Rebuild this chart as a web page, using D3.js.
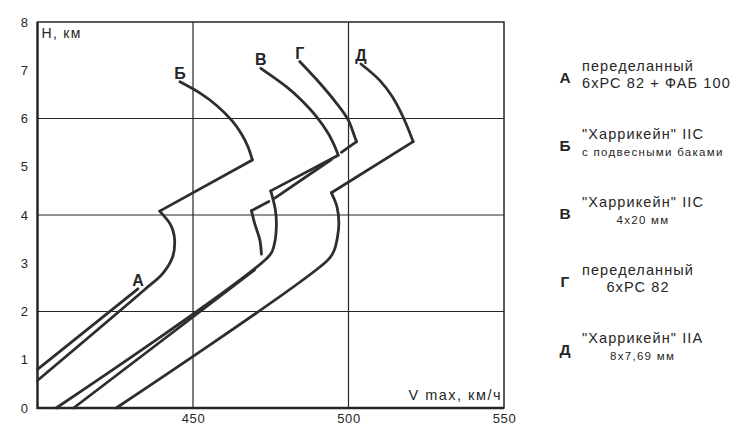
<!DOCTYPE html>
<html>
<head>
<meta charset="utf-8">
<script src="https://cdn.jsdelivr.net/npm/d3@7"></script>
<style>
  body { margin: 0; background: #fff; }
  svg { display: block; font-family: "Liberation Sans", Arial, sans-serif; }
</style>
</head>
<body>
<div id="chart"></div>
<script>
// max speed (km/h) against altitude (km)
const xTicks = [450, 500, 550];
const yTicks = [0, 1, 2, 3, 4, 5, 6, 7, 8];
const xGrid = [450, 500];
const yGrid = [2, 4, 6];

const curveNames = ["А", "Б", "В", "Г", "Д"];

// each curve = list of pieces of [speed, altitude]; pieces meet at sharp corners,
// pieces that do not touch leave the small breaks of the original drawing
const curveA = [
  [[400, 0.80], [432.3, 2.47]]
];
const curveB = [
  [[400, 0.57], [434.4, 2.45], [440.3, 2.79], [443.5, 3.14], [444.1, 3.48],
   [443.5, 3.69], [442.5, 3.83], [439.3, 4.08]],
  [[439.3, 4.08], [469.1, 5.14]],
  [[469.1, 5.14], [467.7, 5.41], [465.6, 5.68], [462.6, 5.95], [457.8, 6.26],
   [452.4, 6.52], [445.8, 6.76]]
];
const curveV = [
  [[406, 0], [474.7, 3.17], [476.1, 3.38], [476.8, 3.76], [476.5, 4.10], [475.0, 4.50]],
  [[475.0, 4.50], [496.7, 5.24]],
  [[496.7, 5.24], [495.6, 5.42], [493.5, 5.69], [489.7, 6.04], [484.9, 6.38],
   [480.0, 6.66], [471.8, 7.04]]
];
const curveG = [
  [[411.6, 0], [469.8, 2.86]],
  [[472.0, 3.19], [471.5, 3.48], [469.8, 3.83], [468.8, 4.09]],
  [[468.8, 4.09], [474.4, 4.28]],
  [[476.3, 4.35], [494.5, 5.15]],
  [[497.7, 5.30], [502.6, 5.52]],
  [[502.6, 5.52], [502.0, 5.62], [499.9, 5.97], [496.1, 6.32], [490.8, 6.73], [484.3, 7.18]]
];
const curveD = [
  [[425.3, 0], [493.4, 3.07], [495.4, 3.27], [496.4, 3.52], [496.9, 3.83],
   [496.3, 4.17], [494.5, 4.46]],
  [[494.5, 4.46], [520.8, 5.52]],
  [[520.8, 5.52], [517.7, 6.01], [514.1, 6.45], [509.9, 6.80], [504.0, 7.13]]
];
const curves = [curveA, curveB, curveV, curveG, curveD];

const legendMain = [
  ["переделанный", "6хРС 82 + ФАБ 100"],
  ["\"Харрикейн\" IIC"],
  ["\"Харрикейн\" IIC"],
  ["переделанный", "6хРС 82"],
  ["\"Харрикейн\" IIA"]
];
const legendSub = [null, "с подвесными баками", "4х20 мм", null, "8х7,69 мм"];

const width = 742, height = 430;
const ink = "#262626";

const x = d3.scaleLinear().domain([400, 550]).range([37.5, 504]);
const y = d3.scaleLinear().domain([0, 8]).range([408, 22]);

const svg = d3.select("#chart").append("svg")
  .attr("width", width)
  .attr("height", height);

// grid
svg.append("g").selectAll("line").data(xGrid).join("line")
  .attr("x1", d => x(d)).attr("x2", d => x(d))
  .attr("y1", y(0)).attr("y2", y(8))
  .attr("stroke", ink).attr("stroke-width", 1.2);
svg.append("g").selectAll("line").data(yGrid).join("line")
  .attr("x1", x(400)).attr("x2", x(550))
  .attr("y1", d => y(d)).attr("y2", d => y(d))
  .attr("stroke", ink).attr("stroke-width", 1.2);

// frame
svg.append("rect")
  .attr("x", x(400)).attr("y", y(8))
  .attr("width", x(550) - x(400)).attr("height", y(0) - y(8))
  .attr("fill", "none").attr("stroke", ink).attr("stroke-width", 1.5);
svg.append("path")
  .attr("d", `M${x(400)},${y(8)}V${y(0)}H${x(550)}`)
  .attr("fill", "none").attr("stroke", ink).attr("stroke-width", 2.3);

// axes (labels only)
const xAxis = svg.append("g")
  .attr("transform", `translate(0,${y(0)})`)
  .call(d3.axisBottom(x).tickValues(xTicks).tickSize(0).tickPadding(6));
const yAxis = svg.append("g")
  .attr("transform", `translate(${x(400)},0)`)
  .call(d3.axisLeft(y).tickValues(yTicks).tickSize(0).tickPadding(9));
[xAxis, yAxis].forEach(g => {
  g.select(".domain").remove();
  g.selectAll("text")
    .attr("font-family", "Liberation Sans, Arial, sans-serif")
    .attr("font-size", 13)
    .attr("letter-spacing", 0.6)
    .attr("fill", ink);
});

svg.append("text")
  .attr("x", x(400) + 4).attr("y", y(8) + 16)
  .attr("font-size", 14).attr("letter-spacing", 1.3)
  .attr("fill", ink)
  .text("Н, км");
svg.append("text")
  .attr("x", x(550) - 2).attr("y", y(0) - 8)
  .attr("text-anchor", "end")
  .attr("font-size", 14.5).attr("letter-spacing", 1.5)
  .attr("fill", ink)
  .text("V max, км/ч");

// curves
const line = d3.line()
  .x(d => x(d[0]))
  .y(d => y(d[1]))
  .curve(d3.curveCatmullRom.alpha(0.5));

svg.append("g").selectAll("path").data(curves.flat()).join("path")
  .attr("d", line)
  .attr("fill", "none")
  .attr("stroke", "#2e2e2e")
  .attr("stroke-width", 2.8)
  .attr("stroke-linejoin", "round")
  .attr("stroke-linecap", "round");

// letter at the top end of each curve
const topEnd = c => { const p = c[c.length - 1]; return p[p.length - 1]; };
svg.append("g").selectAll("text").data(curves).join("text")
  .attr("x", d => x(topEnd(d)[0]))
  .attr("y", d => y(topEnd(d)[1]) - 3)
  .attr("text-anchor", "middle")
  .attr("font-size", 16).attr("font-weight", 600)
  .attr("fill", ink)
  .text((d, i) => curveNames[i]);

// legend
const legend = svg.append("g");
curveNames.forEach((name, i) => {
  const y0 = 71 + i * 68;
  legend.append("text")
    .attr("x", 565).attr("y", y0 + 12)
    .attr("text-anchor", "middle")
    .attr("font-size", 15.5).attr("font-weight", 700)
    .attr("fill", ink)
    .text(name);

  const first = legend.append("text")
    .attr("x", 582).attr("y", y0)
    .attr("font-size", 14.5).attr("letter-spacing", 1.1)
    .attr("fill", ink)
    .text(legendMain[i][0]);
  const w0 = first.node().getComputedTextLength();
  const mid = 582 + w0 / 2;

  const rest = legendMain[i].slice(1).map(t => ({t, size: 14.5, ls: 1.1}));
  if (legendSub[i]) rest.push({t: legendSub[i], size: 11.5, ls: 1.3});
  rest.forEach((r, k) => {
    const t = legend.append("text")
      .attr("y", y0 + 17 * (k + 1))
      .attr("font-size", r.size).attr("letter-spacing", r.ls)
      .attr("fill", ink)
      .text(r.t);
    const w = t.node().getComputedTextLength();
    if (w > w0) t.attr("x", 582);
    else t.attr("x", mid).attr("text-anchor", "middle");
  });
});
</script>
</body>
</html>
